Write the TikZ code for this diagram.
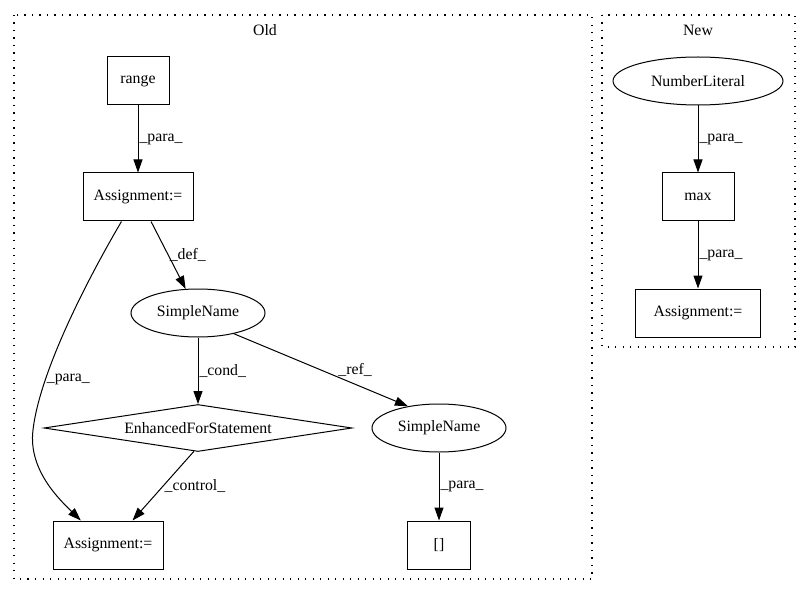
\documentclass[tikz,border=0pt]{standalone}
\usepackage{fontspec}
\setmainfont{Liberation Serif}
\usetikzlibrary{shapes.geometric,arrows.meta}
\begin{document}
\begin{tikzpicture}[x=1pt, y=-1pt,
        font=\fontsize{15.8}{19}\selectfont,
        box/.style={rectangle, draw=black, line width=1pt, inner sep=0pt},
        oval/.style={ellipse, draw=black, line width=1pt, inner sep=0pt},
        edge/.style={line width=1pt, -{Triangle[length=13pt,width=9pt]}},
        elabel/.style={inner sep=1pt, anchor=west},
        cluster/.style={draw=black, line width=1.1pt, dash pattern=on 1.2pt off 6.3pt}]
                \useasboundingbox (0,0) rectangle (811,596);
                % clusters
                \draw[cluster] (14,15) rectangle (592,579);
                \draw[cluster] (602,15) rectangle (795,347);
                \node (old) at (265,30) {Old};
                \node (new) at (698,30) {New};
                % old graph
                \node[box, minimum width=62, minimum height=48] (range) at (138,81) {range};
                \node[box, minimum width=110, minimum height=48] (asg1) at (138,197) {Assignment:=};
                \node[oval, minimum width=134, minimum height=48] (sn1) at (198,313) {SimpleName};
                \node[diamond, draw=black, line width=1pt, inner sep=0pt, aspect=6.5, minimum width=308, minimum height=47] (efs) at (198,428) {EnhancedForStatement};
                \node[oval, minimum width=134, minimum height=48] (sn2) at (439,428) {SimpleName};
                \node[box, minimum width=110, minimum height=48] (asg2) at (108,545) {Assignment:=};
                \node[box, minimum width=63, minimum height=48] (idx) at (439,545) {[]};
                \draw[edge] (range) -- node[elabel] {\_para\_} (asg1);
                \draw[edge] (asg1.-62) -- node[elabel] {\_def\_} (sn1);
                \draw[edge] (asg1.-124) .. controls (90,275) and (40,370) .. (33,430)
                    node[elabel, pos=0.75] {\_para\_}
                    .. controls (28,470) and (60,500) .. (asg2.138);
                \draw[edge] (sn1) -- node[elabel] {\_cond\_} (efs);
                \draw[edge] (sn1.-30) -- node[elabel, xshift=16pt] {\_ref\_} (sn2.145);
                \draw[edge] (efs.-100) -- node[elabel] {\_control\_} (asg2.45);
                \draw[edge] (sn2) -- node[elabel] {\_para\_} (idx);
                % new graph
                \node[oval, minimum width=170, minimum height=48] (num) at (698,81) {NumberLiteral};
                \node[box, minimum width=72, minimum height=48] (max) at (698,197) {max};
                \node[box, minimum width=125, minimum height=48] (asg3) at (698,313) {Assignment:=};
                \draw[edge] (num) -- node[elabel] {\_para\_} (max);
                \draw[edge] (max) -- node[elabel] {\_para\_} (asg3);

            \end{tikzpicture}
\end{document}
